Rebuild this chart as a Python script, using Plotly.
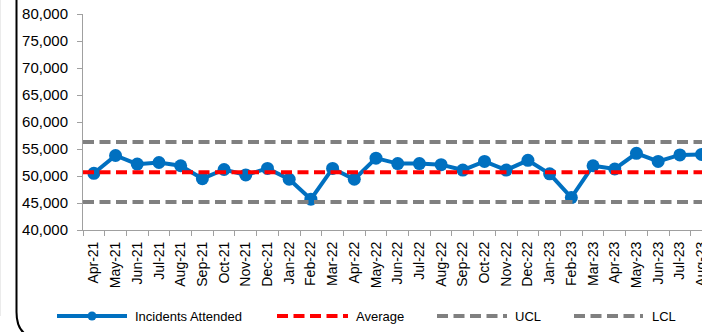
import plotly.graph_objects as go

# Monthly incidents attended, with control limits
months = [
    "Apr-21", "May-21", "Jun-21", "Jul-21", "Aug-21", "Sep-21", "Oct-21", "Nov-21",
    "Dec-21", "Jan-22", "Feb-22", "Mar-22", "Apr-22", "May-22", "Jun-22", "Jul-22",
    "Aug-22", "Sep-22", "Oct-22", "Nov-22", "Dec-22", "Jan-23", "Feb-23", "Mar-23",
    "Apr-23", "May-23", "Jun-23", "Jul-23", "Aug-23",
]
incidents = [
    50500, 53800, 52200, 52500, 51900, 49500, 51200, 50200,
    51400, 49400, 45700, 51400, 49400, 53300, 52300, 52300,
    52100, 51100, 52700, 51100, 52900, 50400, 46000, 51900,
    51300, 54200, 52700, 53900, 54000,
]
average = 50700
ucl = 56300
lcl = 45200

y_ticks = [40000, 45000, 50000, 55000, 60000, 65000, 70000, 75000, 80000]
legend_labels = ["Incidents Attended", "Average", "UCL", "LCL"]

BLUE = "#0070C0"
RED = "#FF0000"
GREY = "#808080"
AXIS = "#A0A0A0"
FONT = "Liberation Sans, Arial, sans-serif"
DASH = "11px,5.5px"

W, H = 702, 332
ML, MR, MT, MB = 83, 0, 14, 102
PW, PH = W - ML - MR, H - MT - MB


def px(x):
    """Page x (pixels) -> paper fraction."""
    return (x - ML) / PW


def py(y):
    """Page y (pixels from top) -> paper fraction."""
    return (H - MB - y) / PH


fig = go.Figure()

fig.add_trace(go.Scatter(
    x=months, y=incidents, mode="lines+markers",
    line=dict(color=BLUE, width=4),
    marker=dict(color=BLUE, size=13),
    name=legend_labels[0], showlegend=False,
))

# Control lines across the full plot width
for val, col in [(average, RED), (ucl, GREY), (lcl, GREY)]:
    fig.add_hline(y=val, line=dict(color=col, width=4, dash=DASH), layer="above")

# Legend row
legend_items = [
    (57, 127, BLUE, "solid", 133),
    (277, 348, RED, DASH, 354),
    (437, 507, GREY, DASH, 513),
    (574, 643, GREY, DASH, 650),
]
LY = 316
for (x0, x1, col, dash, tx), label in zip(legend_items, legend_labels):
    fig.add_shape(type="line", xref="paper", yref="paper",
                  x0=px(x0), x1=px(x1), y0=py(LY), y1=py(LY),
                  line=dict(color=col, width=4, dash=dash))
    fig.add_annotation(xref="paper", yref="paper", x=px(tx), y=py(LY),
                       text=label, showarrow=False, xanchor="left", yanchor="middle",
                       font=dict(family=FONT, size=13, color="#000000"))
fig.add_shape(type="circle", xref="paper", yref="paper",
              x0=px(92 - 4.5), x1=px(92 + 4.5), y0=py(LY + 4.5), y1=py(LY - 4.5),
              fillcolor=BLUE, line=dict(color=BLUE, width=0))

# Rounded chart frame
frame = (f"M {px(16.5)},{py(-10)} L {px(16.5)},{py(312)} "
         f"Q {px(16.5)},{py(338)} {px(40)},{py(338)} L {px(740)},{py(338)}")
fig.add_shape(type="path", xref="paper", yref="paper", path=frame,
              line=dict(color="#000000", width=2))
fig.add_shape(type="line", xref="paper", yref="paper",
              x0=px(0.5), x1=px(0.5), y0=py(0), y1=py(316),
              line=dict(color="#EBEBEB", width=1))

fig.update_xaxes(
    type="category", range=[-0.5, 28.02],
    showline=True, linecolor=AXIS, linewidth=1,
    ticks="outside", tickson="boundaries", ticklen=5, tickcolor=AXIS,
    ticklabelstandoff=5,
    tickangle=-90, tickfont=dict(family=FONT, size=14, color="#000000"),
    showgrid=False, zeroline=False,
)
fig.update_yaxes(
    range=[40000, 80000], tickvals=y_ticks, tickformat=",d",
    showline=True, linecolor=AXIS, linewidth=1,
    ticks="outside", ticklen=5, tickcolor=AXIS, ticklabelstandoff=6,
    tickfont=dict(family=FONT, size=15, color="#000000"),
    showgrid=False, zeroline=False,
)
fig.update_layout(
    width=W, height=H,
    margin=dict(l=ML, r=MR, t=MT, b=MB, autoexpand=False),
    paper_bgcolor="#FFFFFF", plot_bgcolor="#FFFFFF",
    showlegend=False,
    font=dict(family=FONT),
)

fig.write_html("out.html")
